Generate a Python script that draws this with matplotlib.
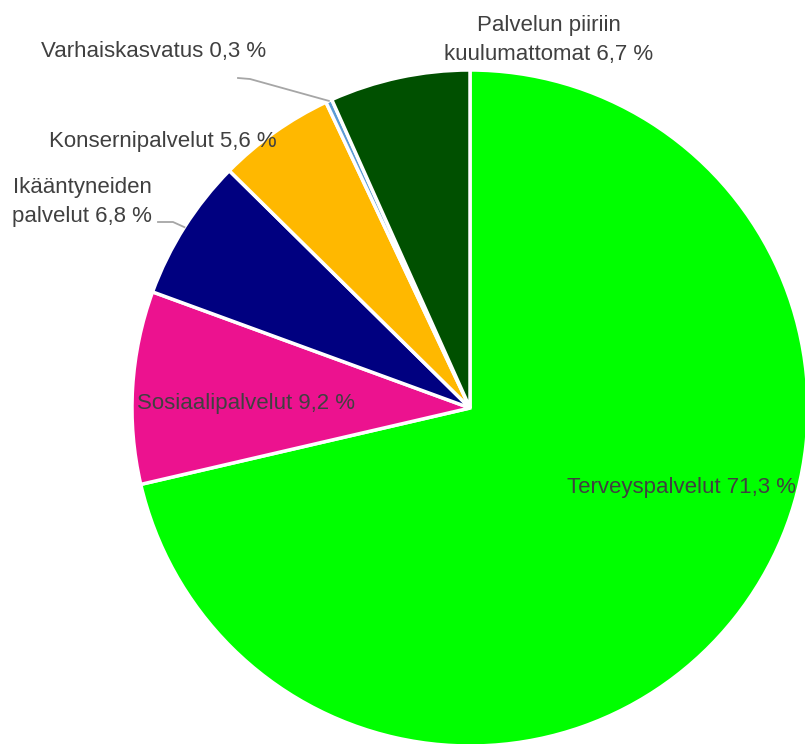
import matplotlib
matplotlib.use('Agg')
import matplotlib.pyplot as plt
import numpy as np

plt.rcParams['font.family'] = ['Liberation Sans', 'DejaVu Sans']

# osuudet (%)
labels = ['Terveyspalvelut', 'Sosiaalipalvelut', 'Ikääntyneiden\npalvelut', 'Konsernipalvelut',
          'Varhaiskasvatus', 'Palvelun piiriin\nkuulumattomat']
values = [71.3, 9.2, 6.8, 5.6, 0.3, 6.7]
colors = ['#00FF00', '#EC128F', '#000080', '#FFB800', '#5B9BD5', '#005000']

W, H = 805, 744
fig = plt.figure(figsize=(W / 100, H / 100), dpi=100)
ax = fig.add_axes([0, 0, 1, 1])

cx, cy, r = 470, H - 408, 338
wedges, _ = ax.pie(values, colors=colors, startangle=90, counterclock=False,
                   center=(cx, cy), radius=r, frame=True,
                   wedgeprops=dict(edgecolor='white', linewidth=2.5))
ax.set_xlim(0, W)
ax.set_ylim(0, H)
ax.set_aspect('equal')
ax.axis('off')

def fmt(v):
    return f'{v:.1f}'.replace('.', ',') + ' %'

texts = [f'{l} {fmt(v)}' for l, v in zip(labels, values)]
# label positions in pixels (x, y from top)
pos = [(681, 488), (246, 403), (82, 202), (163, 142), (154, 52), (549, 40)]
tcol = '#404040'
fs = 16
for t, (px, py) in zip(texts, pos):
    ax.text(px, H - py, t, ha='center', va='center', fontsize=fs, color=tcol,
            linespacing=1.55)

# leader lines
def wedge_point(i, rr=r):
    w = wedges[i]
    ang = np.deg2rad((w.theta1 + w.theta2) / 2)
    return cx + rr * np.cos(ang), cy + rr * np.sin(ang)

lc = '#A6A6A6'
x3, y3 = wedge_point(4)
ax.plot([238, 250, x3], [H - 78, H - 79, y3], color=lc, lw=1.3)
x2, y2 = wedge_point(2)
ax.plot([158, 173, x2], [H - 222, H - 222, y2], color=lc, lw=1.3)

fig.savefig('out.png', dpi=100)
